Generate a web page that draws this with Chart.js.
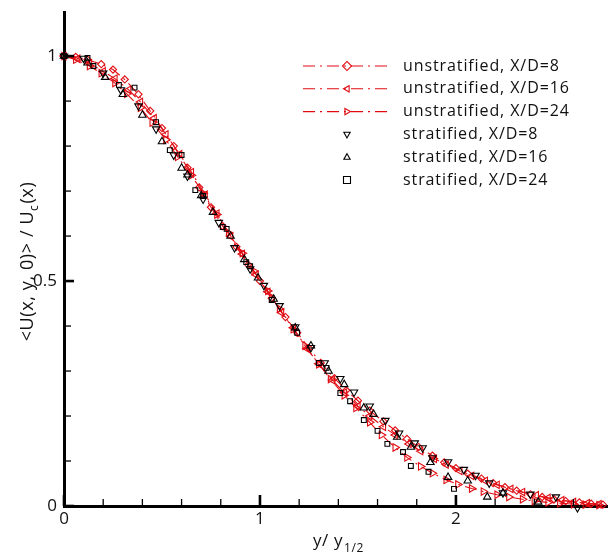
<!DOCTYPE html>
<html>
<head>
<meta charset="utf-8">
<script src="https://cdn.jsdelivr.net/npm/chart.js@4.4.0/dist/chart.umd.min.js"></script>
<style>
  html,body{margin:0;padding:0;background:#fff}
  #wrap{width:608px;height:554px;position:relative}
</style>
</head>
<body>
<div id="wrap"><canvas id="c"></canvas></div>
<script>
/* ---------- data ---------- */
// eta = y / y_1/2 ,  U = <U(x,y,0)> / Uc(x)
const etaUn8  = [0,0.06,0.12,0.19,0.25,0.31,0.38,0.44,0.5,0.56,0.63,0.69,0.75,0.81,0.88,0.94,1.0,1.06,1.13,1.19,1.25,1.31,1.38,1.44,1.5,1.56,1.63,1.69,1.75,1.81,1.88,1.94,2.0,2.06,2.13,2.19,2.25,2.31,2.38,2.44,2.5,2.56,2.63,2.69,2.75];
const uUn8    = [1.0,0.998,0.992,0.982,0.97,0.948,0.915,0.878,0.84,0.8,0.752,0.708,0.664,0.622,0.576,0.536,0.5,0.462,0.42,0.385,0.351,0.318,0.284,0.257,0.234,0.212,0.188,0.168,0.149,0.131,0.112,0.097,0.084,0.072,0.061,0.051,0.042,0.034,0.026,0.02,0.015,0.011,0.008,0.005,0.003];

const etaUn16 = [0,0.07,0.13,0.2,0.26,0.33,0.39,0.46,0.52,0.59,0.65,0.72,0.78,0.85,0.91,0.98,1.04,1.11,1.17,1.24,1.3,1.37,1.43,1.5,1.56,1.63,1.69,1.76,1.82,1.89,1.95,2.02,2.08,2.15,2.21,2.28,2.34,2.41,2.47,2.54,2.6,2.67,2.73];
const uUn16   = [1.0,0.994,0.984,0.966,0.95,0.925,0.898,0.862,0.826,0.782,0.742,0.692,0.65,0.6,0.56,0.514,0.476,0.43,0.396,0.35,0.316,0.28,0.252,0.222,0.2,0.176,0.158,0.138,0.122,0.105,0.092,0.078,0.067,0.056,0.047,0.038,0.031,0.024,0.018,0.013,0.009,0.006,0.004];

const etaUn24 = [0,0.06,0.13,0.19,0.26,0.32,0.39,0.45,0.52,0.58,0.65,0.71,0.78,0.84,0.91,0.97,1.04,1.1,1.17,1.23,1.3,1.36,1.43,1.49,1.56,1.62,1.69,1.75,1.82,1.88,1.95,2.01,2.08,2.14,2.21,2.27,2.34,2.4,2.47,2.53,2.6,2.66,2.73];
const uUn24   = [1.0,0.992,0.978,0.962,0.94,0.916,0.885,0.852,0.814,0.776,0.735,0.695,0.648,0.607,0.562,0.522,0.478,0.438,0.393,0.356,0.315,0.282,0.246,0.218,0.186,0.158,0.13,0.108,0.088,0.073,0.058,0.048,0.039,0.032,0.025,0.02,0.015,0.011,0.008,0.006,0.004,0.003,0.002];

const etaSt8  = [0,0.1,0.2,0.29,0.38,0.47,0.56,0.63,0.71,0.79,0.87,0.95,1.02,1.1,1.18,1.26,1.33,1.41,1.48,1.56,1.64,1.71,1.79,1.83,1.88,1.96,2.04,2.1,2.17,2.24,2.38,2.51,2.62];
const uSt8    = [1.0,0.995,0.962,0.925,0.889,0.838,0.78,0.733,0.682,0.63,0.574,0.527,0.49,0.445,0.398,0.352,0.318,0.283,0.253,0.222,0.19,0.162,0.14,0.129,0.107,0.098,0.081,0.068,0.051,0.029,0.026,0.02,-0.004];

const etaSt16 = [0,0.12,0.21,0.3,0.4,0.5,0.6,0.63,0.7,0.76,0.85,0.92,0.99,1.07,1.18,1.26,1.35,1.43,1.53,1.58,1.7,1.77,1.87,1.96,2.06,2.16,2.24,2.42];
const uSt16   = [1.0,0.985,0.953,0.915,0.869,0.81,0.751,0.736,0.69,0.653,0.6,0.548,0.507,0.46,0.396,0.356,0.3,0.27,0.218,0.204,0.153,0.131,0.097,0.064,0.056,0.02,0.029,0.009];

const etaSt24 = [0,0.12,0.15,0.28,0.36,0.47,0.54,0.6,0.67,0.71,0.81,0.83,0.93,0.95,1.06,1.19,1.3,1.34,1.41,1.46,1.53,1.6,1.65,1.73,1.77,1.86,1.99];
const uSt24   = [1.0,0.996,0.978,0.936,0.93,0.853,0.791,0.78,0.702,0.689,0.62,0.616,0.542,0.533,0.458,0.385,0.318,0.307,0.251,0.233,0.191,0.167,0.138,0.12,0.089,0.076,0.038];

const seriesLabels = ['unstratified, X/D=8','unstratified, X/D=16','unstratified, X/D=24',
                      'stratified, X/D=8','stratified, X/D=16','stratified, X/D=24'];
const xTicks = [0,0.2,0.4,0.6,0.8,1,1.2,1.4,1.6,1.8,2,2.2,2.4,2.6];
const yTicks = [0,0.1,0.2,0.3,0.4,0.5,0.6,0.7,0.8,0.9,1];
const xLabelTicks = [0,1,2];
const yLabelTicks = [0,0.5,1];

/* ---------- styling ---------- */
const RED = '#e00c12';
const FONT = '"Open Sans", "Noto Sans", sans-serif';
const DASH = [12,5,2,5];

function pts(xs, ys){ return xs.map((x,i)=>({x, y:ys[i]})); }

// marker style per series: [pointStyle, rotation, color]
const markers = [
  ['rectRot', 0, RED], ['triangle', -90, RED], ['triangle', 90, RED],
  ['triangle', 180, '#000'], ['triangle', 0, '#000'], ['rect', 0, '#000']
];
const allData = [[etaUn8,uUn8],[etaUn16,uUn16],[etaUn24,uUn24],[etaSt8,uSt8],[etaSt16,uSt16],[etaSt24,uSt24]];

const datasets = allData.map((d,i)=>{
  const [ps, rot, col] = markers[i];
  const line = i < 3;
  return {
    label: seriesLabels[i],
    data: pts(d[0], d[1]),
    showLine: line,
    borderColor: col,
    borderWidth: 1.1,
    borderDash: line ? DASH : [],
    pointStyle: ps,
    pointRotation: rot,
    pointRadius: ps==='rect' ? 3.4 : (ps==='rectRot' ? 3.6 : 4.3),
    pointBorderWidth: 1.1,
    pointBorderColor: col,
    pointBackgroundColor: 'rgba(255,255,255,0)',
    tension: 0,
    clip: false,
    order: line ? 2 : 1
  };
});

/* ---------- plugins ---------- */
function isIn(v, arr){ return arr.some(a=>Math.abs(a-v)<1e-9); }

// inward ticks, Tecplot style
const innerTicks = {
  id:'innerTicks',
  afterDraw(chart){
    const {ctx, chartArea:a, scales:{x, y}} = chart;
    ctx.save();
    ctx.strokeStyle = '#000';
    xTicks.forEach(v=>{
      const px = x.getPixelForValue(v), maj = isIn(v, xLabelTicks);
      ctx.lineWidth = maj ? 2.6 : 1.3;
      ctx.beginPath(); ctx.moveTo(px, a.bottom); ctx.lineTo(px, a.bottom - (maj ? 11 : 7)); ctx.stroke();
    });
    yTicks.forEach(v=>{
      const py = y.getPixelForValue(v), maj = isIn(v, yLabelTicks);
      ctx.lineWidth = maj ? 2.6 : 1.3;
      ctx.beginPath(); ctx.moveTo(a.left, py); ctx.lineTo(a.left + (maj ? 10 : 7), py); ctx.stroke();
    });
    ctx.restore();
  }
};

function drawMarker(ctx, style, rot, x, y, r){
  ctx.save();
  ctx.translate(x, y);
  ctx.rotate(rot*Math.PI/180);
  ctx.beginPath();
  if(style==='rect'){ ctx.rect(-r, -r, 2*r, 2*r); }
  else if(style==='rectRot'){ ctx.moveTo(0,-r*1.3); ctx.lineTo(r*1.3,0); ctx.lineTo(0,r*1.3); ctx.lineTo(-r*1.3,0); ctx.closePath(); }
  else { ctx.moveTo(0,-r); ctx.lineTo(r*0.9,r*0.6); ctx.lineTo(-r*0.9,r*0.6); ctx.closePath(); }
  ctx.stroke();
  ctx.restore();
}

const legendBox = {
  id:'legendBox',
  afterDraw(chart){
    const ctx = chart.ctx;
    ctx.save();
    ctx.font = '16px ' + FONT;
    ctx.letterSpacing = '0.9px';
    ctx.textBaseline = 'middle';
    seriesLabels.forEach((lab,i)=>{
      const yy = 66 + i*22.8;
      const [ps, rot, col] = markers[i];
      ctx.strokeStyle = col; ctx.lineWidth = 1.1;
      if(i < 3){
        ctx.setLineDash(DASH);
        ctx.beginPath(); ctx.moveTo(303, yy); ctx.lineTo(391, yy); ctx.stroke();
        ctx.setLineDash([]);
      }
      drawMarker(ctx, ps, rot, 347, yy, 3.5);
      ctx.fillStyle = '#111';
      ctx.fillText(lab, 403, yy);
    });
    ctx.restore();
  }
};

const axisTitles = {
  id:'axisTitles',
  afterDraw(chart){
    const ctx = chart.ctx;
    ctx.save();
    ctx.fillStyle = '#111';
    ctx.textBaseline = 'alphabetic';
    ctx.letterSpacing = '0.6px';
    // x title: y/ y_1/2
    const big = '17px ' + FONT, small = '12px ' + FONT;
    ctx.font = big; const w1 = ctx.measureText('y/ y').width;
    ctx.font = small; const w2 = ctx.measureText('1/2').width;
    let x0 = 338 - (w1 + w2)/2;
    ctx.font = big; ctx.fillText('y/ y', x0, 546);
    ctx.font = small; ctx.fillText('1/2', x0 + w1 + 1, 552);
    // y title: <U(x, y, 0)> / U_c(x), rotated
    ctx.translate(33, 262);
    ctx.rotate(-Math.PI/2);
    const big2 = '18px ' + FONT;
    ctx.font = big2; const a1 = ctx.measureText('<U(x, y, 0)> / U').width;
    ctx.font = small; const a2 = ctx.measureText('c').width;
    ctx.font = big2; const a3 = ctx.measureText('(x)').width;
    let s = -(a1 + a2 + a3)/2;
    ctx.font = big2; ctx.fillText('<U(x, y, 0)> / U', s, 0);
    ctx.font = small; ctx.fillText('c', s + a1, 5);
    ctx.font = big2; ctx.fillText('(x)', s + a1 + a2 + 1, 0);
    ctx.restore();
  }
};

// drop the label overhang padding chart.js reserves at the axis ends
function noEndPadding(s){ s.paddingTop = 0; s.paddingBottom = 0; s.paddingLeft = 0; s.paddingRight = 0; }

/* ---------- chart ---------- */
const tickFont = {family: FONT, size: 17};
new Chart(document.getElementById('c'), {
  type: 'scatter',
  data: {datasets},
  options: {
    responsive: true, maintainAspectRatio: false, devicePixelRatio: 1,
    animation: false,
    layout: {autoPadding: false, padding: {top: 12, right: 0, left: 0, bottom: 0}},
    plugins: {legend: {display: false}, tooltip: {enabled: false}},
    scales: {
      x: {
        type: 'linear', min: 0, max: 2.776,
        afterBuildTicks: s => { s.ticks = xTicks.map(v=>({value:v})); },
        afterFit: s => { s.height = 48; noEndPadding(s); },
        ticks: {autoSkip: false, maxRotation: 0, padding: 3, color: '#111', font: tickFont,
                callback: v => isIn(v, xLabelTicks) ? String(Math.round(v)) : ''},
        grid: {drawOnChartArea: false, drawTicks: false},
        border: {display: true, width: 3, color: '#000'}
      },
      y: {
        type: 'linear', min: 0, max: 1.098,
        afterBuildTicks: s => { s.ticks = yTicks.map(v=>({value:v})); },
        afterFit: s => { s.width = 64; noEndPadding(s); },
        ticks: {autoSkip: false, padding: 7, color: '#111', font: tickFont,
                callback: v => isIn(v, yLabelTicks) ? String(v) : ''},
        grid: {drawOnChartArea: false, drawTicks: false},
        border: {display: true, width: 3, color: '#000'}
      }
    }
  },
  plugins: [innerTicks, legendBox, axisTitles]
});
</script>
</body>
</html>
